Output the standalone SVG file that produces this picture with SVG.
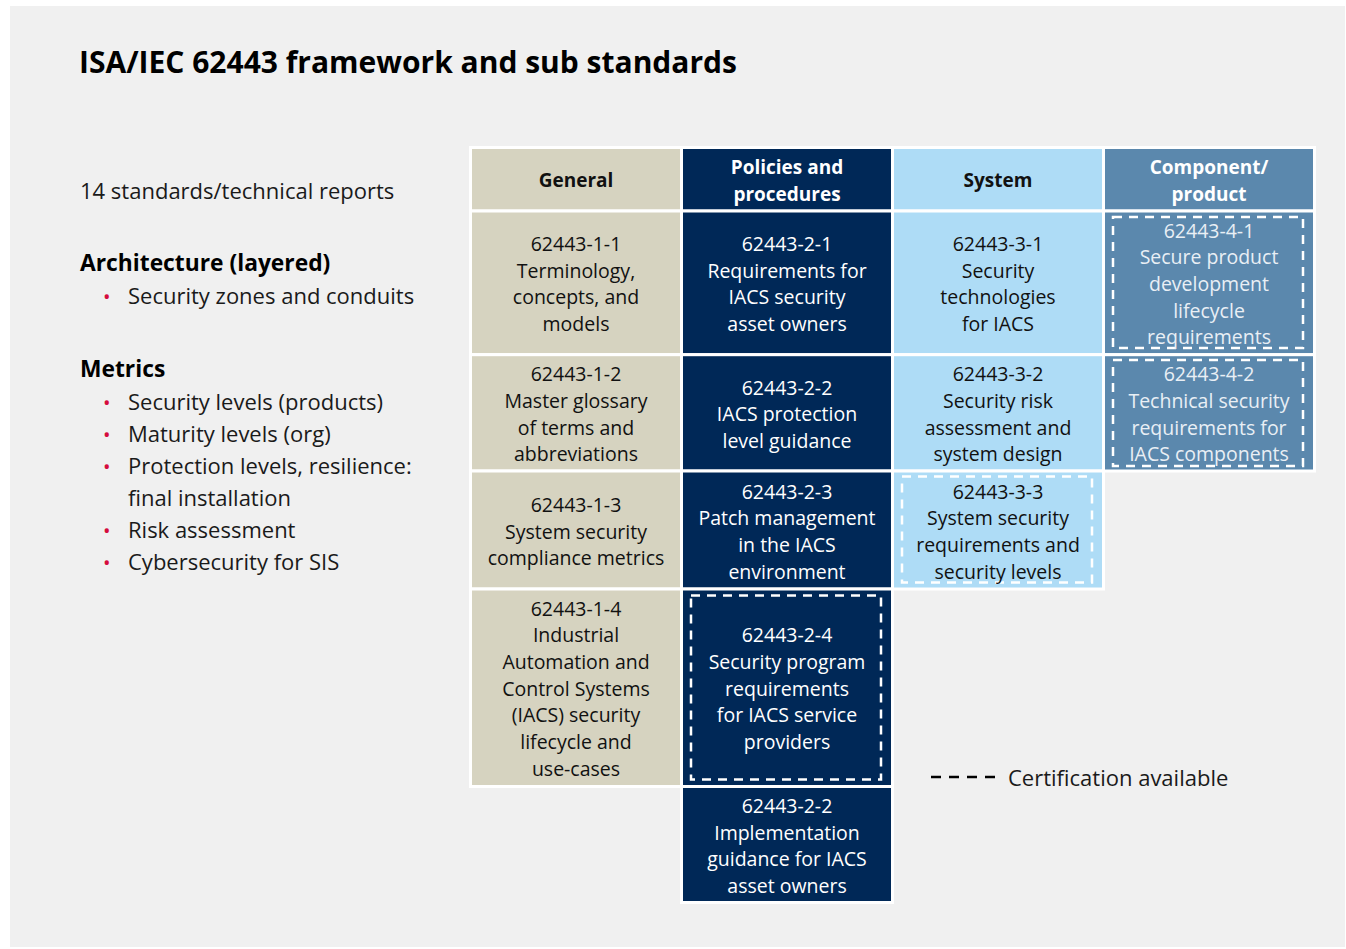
<svg xmlns="http://www.w3.org/2000/svg" width="1346" height="949" viewBox="0 0 1346 949">
  <style>
    text { font-family: "Open Sans", "Noto Sans", "Liberation Sans", sans-serif; }
    .title { font-size: 30px; font-weight: 700; fill: #000; }
    .lead { font-size: 22px; fill: #1a1a1a; }
    .sub { font-size: 22.8px; font-weight: 700; fill: #000; }
    .bullet { font-size: 20px; fill: #d50c3c; }
    .hdr { font-size: 19px; font-weight: 700; text-anchor: middle; }
    .cell { font-size: 19.5px; text-anchor: middle; }
    .dark { fill: #111; }
    .light { fill: #fff; }
    .paleLight { fill: #e9eff5; }
    .box { stroke: #fff; stroke-width: 3; }
    .gen { fill: #d6d3c0; }
    .pol { fill: #002857; }
    .sys { fill: #aedcf6; }
    .cmp { fill: #5b88ad; }
    .cert { fill: none; stroke: #fff; stroke-width: 2.5; stroke-dasharray: 9 7; }
    .legendLine { stroke: #000; stroke-width: 2.5; stroke-dasharray: 10 8; }
  </style>

  <!-- page -->
  <rect x="0" y="0" width="1346" height="949" fill="#fff"/>
  <rect x="10" y="6" width="1335" height="941" fill="#f0f0f0"/>

  <text class="title" x="79" y="73">ISA/IEC 62443 framework and sub standards</text>

  <!-- left summary -->
  <g id="summary">
    <text class="lead" x="80" y="199">14 standards/technical reports</text>
    <text class="sub" x="80" y="271">Architecture (layered)</text>
    <text class="bullet" x="103" y="304">•</text>
    <text class="lead" x="128" y="304">Security zones and conduits</text>
    <text class="sub" x="80" y="377">Metrics</text>
    <text class="bullet" x="103" y="410">•</text>
    <text class="lead" x="128" y="410">Security levels (products)</text>
    <text class="bullet" x="103" y="442">•</text>
    <text class="lead" x="128" y="442">Maturity levels (org)</text>
    <text class="bullet" x="103" y="474">•</text>
    <text class="lead" x="128" y="474">Protection levels, resilience:</text>
    <text class="lead" x="128" y="506">final installation</text>
    <text class="bullet" x="103" y="538">•</text>
    <text class="lead" x="128" y="538">Risk assessment</text>
    <text class="bullet" x="103" y="570">•</text>
    <text class="lead" x="128" y="570">Cybersecurity for SIS</text>
  </g>

  <!-- column headers -->
  <g id="hdr-general">
    <rect class="box gen" x="470.5" y="147.5" width="211" height="63.5"/>
    <text class="hdr dark" x="576" y="187">General</text>
  </g>
  <g id="hdr-policies">
    <rect class="box pol" x="681.5" y="147.5" width="211" height="63.5"/>
    <text class="hdr light" x="787" y="174">Policies and</text>
    <text class="hdr light" x="787" y="201">procedures</text>
  </g>
  <g id="hdr-system">
    <rect class="box sys" x="892.5" y="147.5" width="211" height="63.5"/>
    <text class="hdr dark" x="998" y="187">System</text>
  </g>
  <g id="hdr-component">
    <rect class="box cmp" x="1103.5" y="147.5" width="211" height="63.5"/>
    <text class="hdr light" x="1209" y="174">Component/</text>
    <text class="hdr light" x="1209" y="201">product</text>
  </g>

  <!-- General column -->
  <g id="std-1-1">
    <rect class="box gen" x="470.5" y="211" width="211" height="143.7"/>
    <text class="cell dark" x="576" y="251">62443-1-1</text>
    <text class="cell dark" x="576" y="278">Terminology,</text>
    <text class="cell dark" x="576" y="304">concepts, and</text>
    <text class="cell dark" x="576" y="331">models</text>
  </g>
  <g id="std-1-2">
    <rect class="box gen" x="470.5" y="354.7" width="211" height="116.3"/>
    <text class="cell dark" x="576" y="381">62443-1-2</text>
    <text class="cell dark" x="576" y="408">Master glossary</text>
    <text class="cell dark" x="576" y="435">of terms and</text>
    <text class="cell dark" x="576" y="461">abbreviations</text>
  </g>
  <g id="std-1-3">
    <rect class="box gen" x="470.5" y="471" width="211" height="118"/>
    <text class="cell dark" x="576" y="512">62443-1-3</text>
    <text class="cell dark" x="576" y="539">System security</text>
    <text class="cell dark" x="576" y="565">compliance metrics</text>
  </g>
  <g id="std-1-4">
    <rect class="box gen" x="470.5" y="589" width="211" height="197.5"/>
    <text class="cell dark" x="576" y="616">62443-1-4</text>
    <text class="cell dark" x="576" y="642">Industrial</text>
    <text class="cell dark" x="576" y="669">Automation and</text>
    <text class="cell dark" x="576" y="696">Control Systems</text>
    <text class="cell dark" x="576" y="722">(IACS) security</text>
    <text class="cell dark" x="576" y="749">lifecycle and</text>
    <text class="cell dark" x="576" y="776">use-cases</text>
  </g>

  <!-- Policies and procedures column -->
  <g id="std-2-1">
    <rect class="box pol" x="681.5" y="211" width="211" height="143.7"/>
    <text class="cell light" x="787" y="251">62443-2-1</text>
    <text class="cell light" x="787" y="278">Requirements for</text>
    <text class="cell light" x="787" y="304">IACS security</text>
    <text class="cell light" x="787" y="331">asset owners</text>
  </g>
  <g id="std-2-2">
    <rect class="box pol" x="681.5" y="354.7" width="211" height="116.3"/>
    <text class="cell light" x="787" y="395">62443-2-2</text>
    <text class="cell light" x="787" y="421">IACS protection</text>
    <text class="cell light" x="787" y="448">level guidance</text>
  </g>
  <g id="std-2-3">
    <rect class="box pol" x="681.5" y="471" width="211" height="118"/>
    <text class="cell light" x="787" y="499">62443-2-3</text>
    <text class="cell light" x="787" y="525">Patch management</text>
    <text class="cell light" x="787" y="552">in the IACS</text>
    <text class="cell light" x="787" y="579">environment</text>
  </g>
  <g id="std-2-4">
    <rect class="box pol" x="681.5" y="589" width="211" height="197.5"/>
    <rect class="cert" x="691" y="595.5" width="190" height="184"/>
    <text class="cell light" x="787" y="642">62443-2-4</text>
    <text class="cell light" x="787" y="669">Security program</text>
    <text class="cell light" x="787" y="696">requirements</text>
    <text class="cell light" x="787" y="722">for IACS service</text>
    <text class="cell light" x="787" y="749">providers</text>
  </g>
  <g id="std-2-2-impl">
    <rect class="box pol" x="681.5" y="786.5" width="211" height="116"/>
    <text class="cell light" x="787" y="813">62443-2-2</text>
    <text class="cell light" x="787" y="840">Implementation</text>
    <text class="cell light" x="787" y="866">guidance for IACS</text>
    <text class="cell light" x="787" y="893">asset owners</text>
  </g>

  <!-- System column -->
  <g id="std-3-1">
    <rect class="box sys" x="892.5" y="211" width="211" height="143.7"/>
    <text class="cell dark" x="998" y="251">62443-3-1</text>
    <text class="cell dark" x="998" y="278">Security</text>
    <text class="cell dark" x="998" y="304">technologies</text>
    <text class="cell dark" x="998" y="331">for IACS</text>
  </g>
  <g id="std-3-2">
    <rect class="box sys" x="892.5" y="354.7" width="211" height="116.3"/>
    <text class="cell dark" x="998" y="381">62443-3-2</text>
    <text class="cell dark" x="998" y="408">Security risk</text>
    <text class="cell dark" x="998" y="435">assessment and</text>
    <text class="cell dark" x="998" y="461">system design</text>
  </g>
  <g id="std-3-3">
    <rect class="box sys" x="892.5" y="471" width="211" height="118"/>
    <rect class="cert" x="902" y="476.5" width="190" height="106"/>
    <text class="cell dark" x="998" y="499">62443-3-3</text>
    <text class="cell dark" x="998" y="525">System security</text>
    <text class="cell dark" x="998" y="552">requirements and</text>
    <text class="cell dark" x="998" y="579">security levels</text>
  </g>

  <!-- Component / product column -->
  <g id="std-4-1">
    <rect class="box cmp" x="1103.5" y="211" width="211" height="143.7"/>
    <rect class="cert" x="1113" y="217" width="190" height="131"/>
    <text class="cell paleLight" x="1209" y="238">62443-4-1</text>
    <text class="cell paleLight" x="1209" y="264">Secure product</text>
    <text class="cell paleLight" x="1209" y="291">development</text>
    <text class="cell paleLight" x="1209" y="318">lifecycle</text>
    <text class="cell paleLight" x="1209" y="344">requirements</text>
  </g>
  <g id="std-4-2">
    <rect class="box cmp" x="1103.5" y="354.7" width="211" height="116.3"/>
    <rect class="cert" x="1113" y="360" width="190" height="106"/>
    <text class="cell paleLight" x="1209" y="381">62443-4-2</text>
    <text class="cell paleLight" x="1209" y="408">Technical security</text>
    <text class="cell paleLight" x="1209" y="435">requirements for</text>
    <text class="cell paleLight" x="1209" y="461">IACS components</text>
  </g>

  <!-- legend -->
  <g id="legend">
    <line class="legendLine" x1="931" y1="777" x2="995" y2="777"/>
    <text class="lead" x="1008" y="786">Certification available</text>
  </g>
</svg>
